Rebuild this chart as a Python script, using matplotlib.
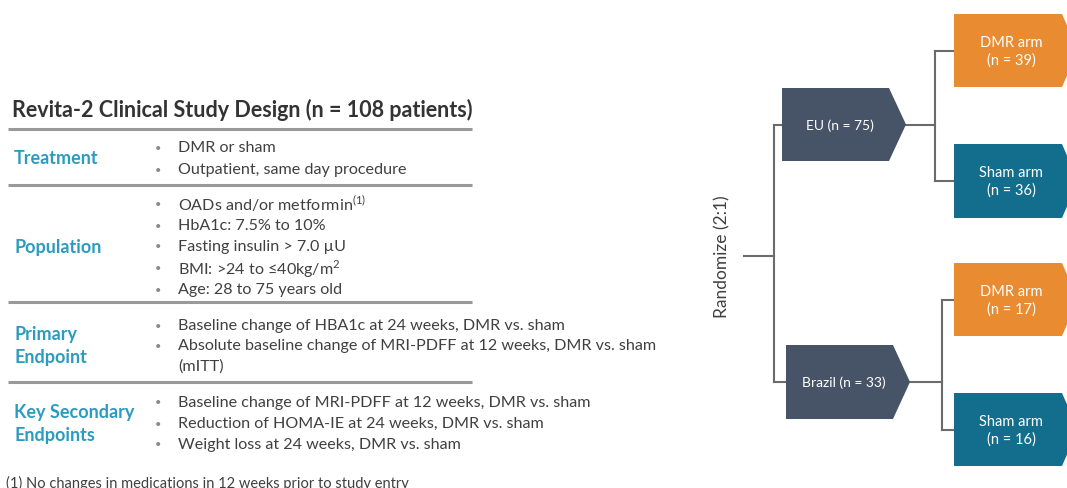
import matplotlib.pyplot as plt
from matplotlib.patches import Polygon

plt.rcParams['font.family'] = ['Lato', 'DejaVu Sans']
plt.rcParams['mathtext.fontset'] = 'custom'
plt.rcParams['mathtext.rm'] = 'Lato'

# table content
title = "Revita-2 Clinical Study Design (n = 108 patients)"
categories = ["Treatment", "Population", "Primary\nEndpoint", "Key Secondary\nEndpoints"]
bullets = [
    ["DMR or sham", "Outpatient, same day procedure"],
    ["OADs and/or metformin$^{\\mathrm{(1)}}$", "HbA1c: 7.5% to 10%", "Fasting insulin > 7.0 \u00b5U",
     "BMI: >24 to \u226440kg/m$^{\\mathrm{2}}$", "Age: 28 to 75 years old"],
    ["Baseline change of HBA1c at 24 weeks, DMR vs. sham",
     "Absolute baseline change of MRI-PDFF at 12 weeks, DMR vs. sham\n(mITT)"],
    ["Baseline change of MRI-PDFF at 12 weeks, DMR vs. sham",
     "Reduction of HOMA-IE at 24 weeks, DMR vs. sham", "Weight loss at 24 weeks, DMR vs. sham"],
]
footnote = "(1) No changes in medications in 12 weeks prior to study entry"

# flow chart content
regions = ["EU", "Brazil"]
region_n = [75, 33]
arm_names = ["DMR arm", "Sham arm"]
arm_n = [[39, 36], [17, 16]]
randomize_label = "Randomize (2:1)"

teal_text = "#2b9cc0"
body = "#404040"
slate = "#475468"
orange = "#e98b30"
teal_box = "#136e8e"
line_gray = "#999999"
conn = "#6b6b6b"

fig = plt.figure(figsize=(10.67, 4.89), dpi=100)
ax = fig.add_axes([0, 0, 1, 1])
ax.set_xlim(0, 1067)
ax.set_ylim(489, 0)
ax.axis('off')

# ---- table ----
ax.text(12, 110, title, fontsize=15.5, fontweight='bold', color="#333333", va='center', ha='left')

rule_y = [130, 186, 303, 383]
for y in rule_y:
    ax.plot([8, 472], [y, y], color=line_gray, lw=2.2, solid_capstyle='butt')

cat_y = [159, 247, 346, 424]
bullet_y = [[148, 170], [204, 226, 247, 269, 290], [326, 346], [403, 424, 445]]
line_step = 21
for cat, cy, items, ys in zip(categories, cat_y, bullets, bullet_y):
    ax.text(14, cy, cat, fontsize=13, fontweight='bold', color=teal_text, va='center', ha='left',
            linespacing=1.45)
    for item, y in zip(items, ys):
        ax.text(155, y, "\u2022", fontsize=8, color="#8a8a8a", va='center', ha='left')
        for k, part in enumerate(item.split('\n')):
            ax.text(178, y + k * line_step, part, fontsize=11.6, color=body, va='center', ha='left')

ax.text(6, 483, footnote, fontsize=10.5, color=body, va='center', ha='left')


# ---- flow chart ----
def chevron(x0, x1, y0, y1, tip, color):
    yc = (y0 + y1) / 2
    pts = [(x0, y0), (x1 - tip, y0), (x1, yc), (x1 - tip, y1), (x0, y1)]
    ax.add_patch(Polygon(pts, closed=True, facecolor=color, edgecolor='none', zorder=3))


region_box = [(782, 906, 89, 162), (786, 910, 346, 420)]
arm_box = [[(15, 88), (145, 219)], [(264, 337), (394, 467)]]
split_x = [935, 942]
arm_colors = [orange, teal_box]

ax.text(722, 257, randomize_label, fontsize=12.5, color=body, rotation=90, va='center', ha='center')
trunk_x = 774
yc_regions = [(b[2] + b[3]) / 2 for b in region_box]
ax.plot([744, trunk_x], [257, 257], color=conn, lw=1.5)
ax.plot([trunk_x, trunk_x], [yc_regions[0], yc_regions[1]], color=conn, lw=1.5)

for i, (reg, n) in enumerate(zip(regions, region_n)):
    x0, x1, y0, y1 = region_box[i]
    yc = (y0 + y1) / 2
    ax.plot([trunk_x, x0], [yc, yc], color=conn, lw=1.5)
    chevron(x0, x1, y0, y1, 17, slate)
    ax.text((x0 + x1 - 17) / 2 + 4, yc, f"{reg} (n = {n})", fontsize=10, color="white",
            va='center', ha='center', zorder=4)
    sx = split_x[i]
    arm_yc = [(a + b) / 2 for a, b in arm_box[i]]
    ax.plot([x1, sx], [yc, yc], color=conn, lw=1.5)
    ax.plot([sx, sx], [arm_yc[0], arm_yc[1]], color=conn, lw=1.5)
    for j, (ay0, ay1) in enumerate(arm_box[i]):
        ayc = (ay0 + ay1) / 2
        ax.plot([sx, 954], [ayc, ayc], color=conn, lw=1.5)
        chevron(954, 1078, ay0, ay1, 16, arm_colors[j])
        ax.text(1011, ayc, f"{arm_names[j]}\n(n = {arm_n[i][j]})", fontsize=10.5, color="white",
                va='center', ha='center', linespacing=1.3, zorder=4)

fig.savefig("out.png", dpi=100)
